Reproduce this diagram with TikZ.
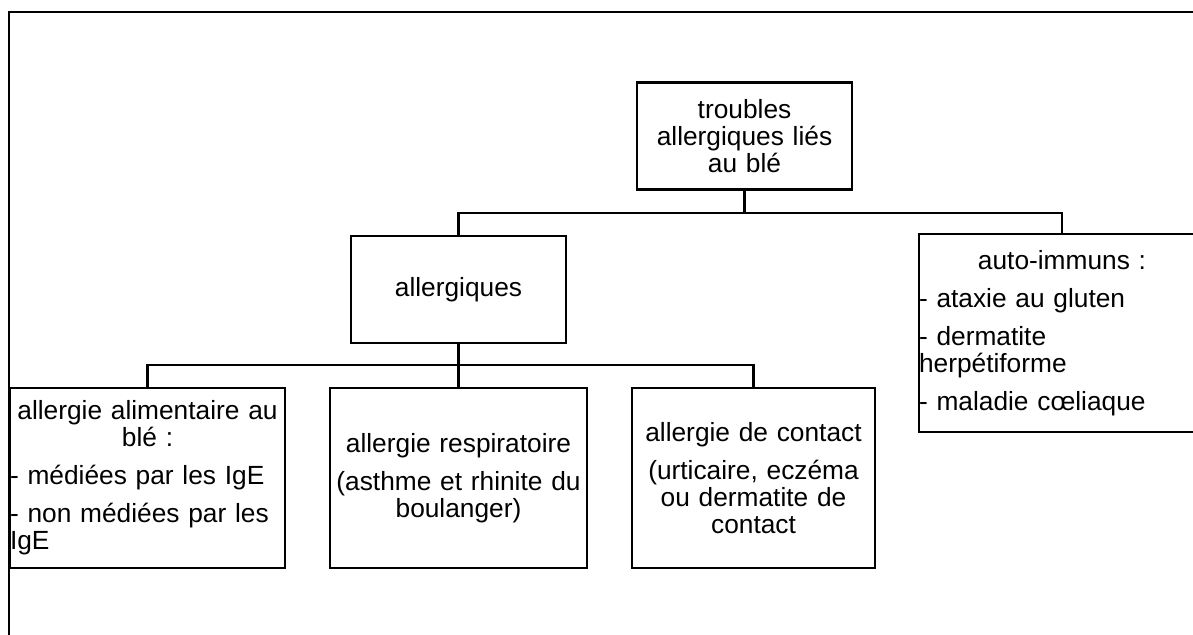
\documentclass[tikz,border=0pt]{standalone}
\usepackage{fontspec}
\setmainfont{Liberation Sans}
\tikzset{
    box/.style={draw, line width=2.4pt, inner sep=0pt, text width=#1,
        font=\fontsize{26.3}{27}\selectfont},
    link/.style={line width=2.4pt},
}

\begin{document}
\begin{tikzpicture}[x=1pt,y=-1pt]
\clip (0,0) rectangle (1193,634);
\draw[link] (9,12) rectangle (1220,660);

\node[box=215pt, minimum height=107pt, align=center] (troubles) at (744.5,136) {troubles\\allergiques liés\\au blé};
\node[box=215pt, minimum height=107pt, align=center] (allerg) at (458.5,289.5) {allergiques};
\node[box=286pt, minimum height=198pt, align=left] (auto) at (1062,333)
    {{\centering auto-immuns :\par}\vspace{11pt}- ataxie au gluten\par\vspace{11pt}- dermatite\\herpétiforme\par\vspace{11pt}- maladie cœliaque};

\node[box=275pt, minimum height=180pt, align=left] (alim) at (147.5,478)
    {{\centering allergie alimentaire au\\blé :\par}\vspace{11pt}- médiées par les IgE\par\vspace{11pt}- non médiées par les\\IgE};
\node[box=257pt, minimum height=180pt, align=center] (resp) at (458.5,478) {allergie respiratoire\\[11pt](asthme et rhinite du\\boulanger)};
\node[box=243pt, minimum height=180pt, align=center] (contact) at (753.5,478) {allergie de contact\\[11pt](urticaire, eczéma\\ou dermatite de\\contact};

\coordinate (bar1) at (744.5,213);
\coordinate (bar2) at (458.5,365);
\draw[link] (troubles) -- (bar1);
\draw[link] (allerg.north) |- (bar1) -| (auto.north);
\draw[link] (allerg) -- (resp);
\draw[link] (alim.north) |- (bar2) -| (contact.north);
\end{tikzpicture}
\end{document}
